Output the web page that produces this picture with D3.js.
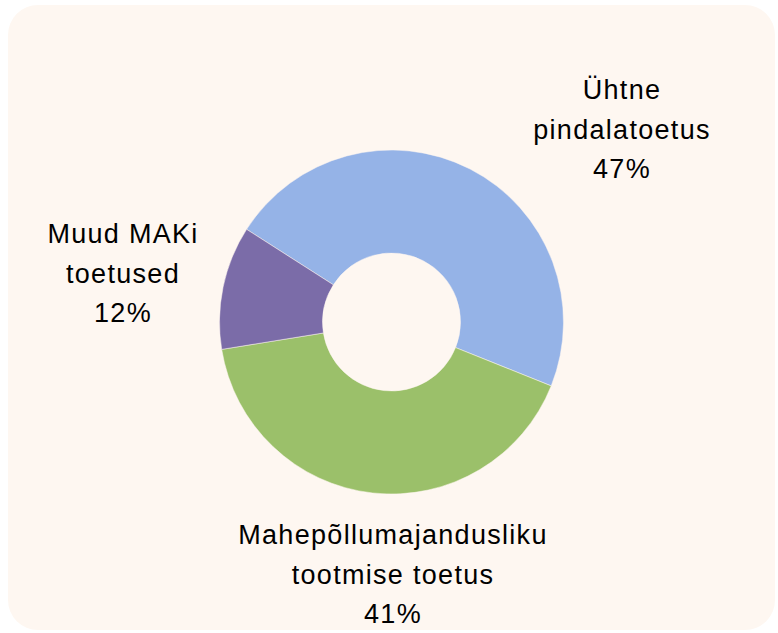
<!DOCTYPE html>
<html>
<head>
<meta charset="utf-8">
<script src="https://cdn.jsdelivr.net/npm/d3@7"></script>
<style>
  html, body { margin: 0; padding: 0; background: #ffffff; }
  svg { display: block; }
</style>
</head>
<body>
<svg id="donut" width="778" height="633"></svg>
<script>
// DATA
const categories = ['Ühtne pindalatoetus', 'Mahepõllumajandusliku tootmise toetus', 'Muud MAKi toetused'];
const labelLines = [['Ühtne', 'pindalatoetus'], ['Mahepõllumajandusliku', 'tootmise toetus'], ['Muud MAKi', 'toetused']];
const shares = [47.0, 41.4, 11.6];
const pctLabels = ['47%', '41%', '12%'];
const colors = ['#95b3e7', '#9bc06a', '#7b6ca8'];

function drawDonut() {
  //SETUP
  const svg = d3.select('#donut');

  svg
    .append('rect')
    .attr('x', 8)
    .attr('y', 5)
    .attr('width', 767)
    .attr('height', 625)
    .attr('rx', 30)
    .attr('ry', 30)
    .attr('fill', '#fef7f1');

  const cx = 391.5;
  const cy = 322;
  const outer = 172;
  const inner = 69;

  //PIE
  const start = (-57.4 * Math.PI) / 180;
  const pie = d3
    .pie()
    .sort(null)
    .value((d) => d)
    .startAngle(start)
    .endAngle(start + 2 * Math.PI);

  const arc = d3.arc().innerRadius(inner).outerRadius(outer);

  const g = svg.append('g').attr('transform', `translate(${cx},${cy})`);

  g.selectAll('.slice')
    .data(pie(shares))
    .enter()
    .append('path')
    .classed('slice', true)
    .attr('d', arc)
    .attr('fill', (d, i) => colors[i])
    .attr('stroke', '#fef7f1')
    .attr('stroke-width', 0.5);

  //LABELS (layout anchors: centre x and first baseline)
  const anchors = [
    [622, 99],
    [393, 544],
    [123, 243],
  ];
  const lineStep = 39.7;

  const labels = svg
    .selectAll('.label')
    .data(categories)
    .enter()
    .append('text')
    .classed('label', true)
    .attr('text-anchor', 'middle')
    .style('font-family', '"Liberation Sans", Arial, sans-serif')
    .style('font-size', '27px')
    .style('letter-spacing', '1.3px')
    .attr('fill', '#000000');

  labels.each(function (d, i) {
    const t = d3.select(this);
    const lines = labelLines[i].concat([pctLabels[i]]);
    lines.forEach((s, k) => {
      t.append('tspan')
        .attr('x', anchors[i][0])
        .attr('y', anchors[i][1] + k * lineStep)
        .text(s);
    });
  });
}

drawDonut();
</script>
</body>
</html>
